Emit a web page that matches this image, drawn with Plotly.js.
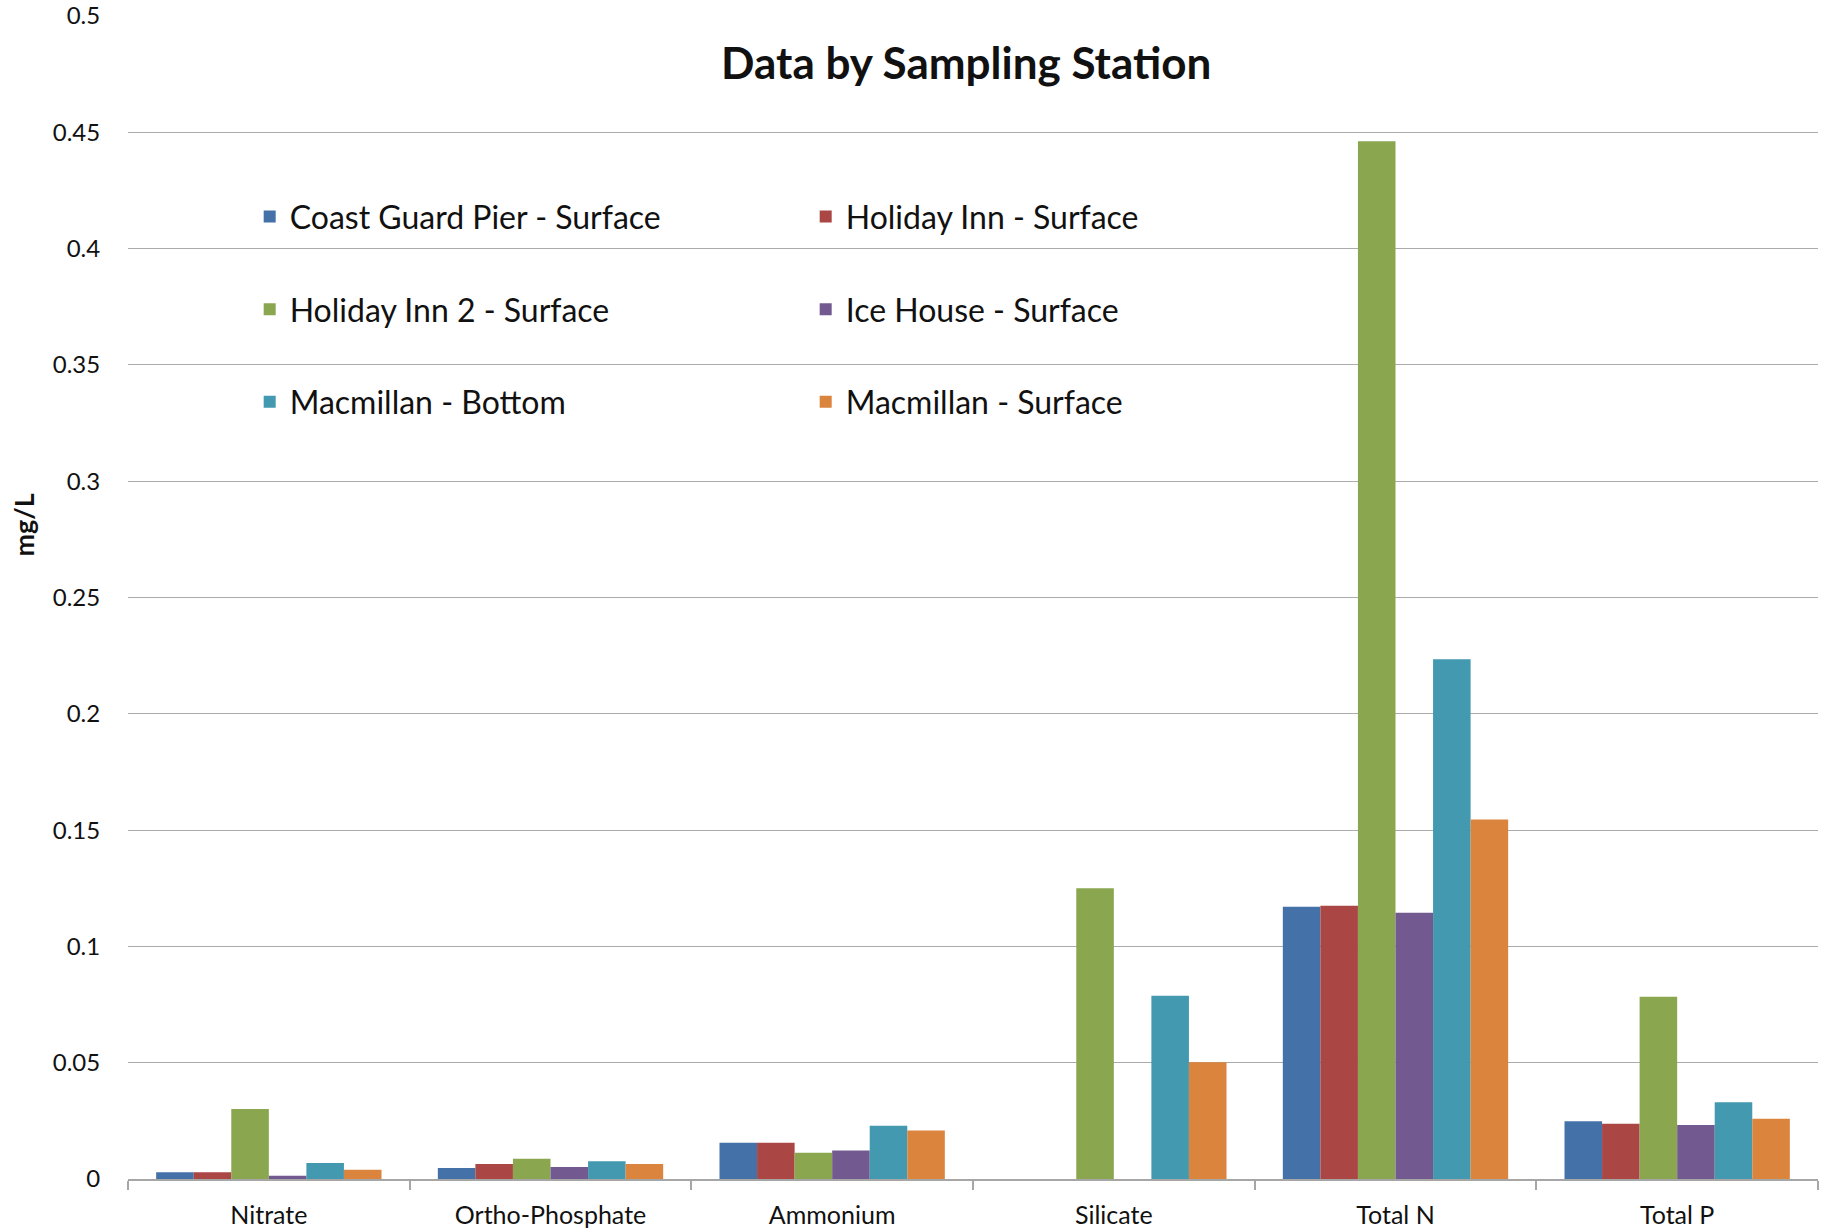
<!DOCTYPE html>
<html>
<head>
<meta charset="utf-8">
<script src="https://cdn.plot.ly/plotly-3.0.1.min.js"></script>
<style>html,body{margin:0;padding:0;background:#fff;}#chart{width:1830px;height:1231px;}</style>
</head>
<body>
<div id="chart"></div>
<script>
const categories = ["Nitrate", "Ortho-Phosphate", "Ammonium", "Silicate", "Total N", "Total P"];
const seriesNames = ["Coast Guard Pier - Surface", "Holiday Inn - Surface", "Holiday Inn 2 - Surface", "Ice House - Surface", "Macmillan - Bottom", "Macmillan - Surface"];
const coastGuardPierSurface = [0.0029, 0.0047, 0.0156, null, 0.117, 0.0248];
const holidayInnSurface     = [0.0029, 0.0065, 0.0156, null, 0.1175, 0.0237];
const holidayInn2Surface    = [0.0301, 0.0087, 0.0113, 0.125, 0.4462, 0.0783];
const iceHouseSurface       = [0.0014, 0.0052, 0.0123, null, 0.1145, 0.0232];
const macmillanBottom       = [0.0069, 0.0076, 0.0229, 0.0788, 0.2234, 0.033];
const macmillanSurface      = [0.004, 0.0065, 0.0208, 0.0502, 0.1546, 0.0259];
const yTickVals = [0, 0.05, 0.1, 0.15, 0.2, 0.25, 0.3, 0.35, 0.4, 0.45, 0.5];
const yTickText = ["0", "0.05", "0.1", "0.15", "0.2", "0.25", "0.3", "0.35", "0.4", "0.45", "0.5"];

const seriesValues = [coastGuardPierSurface, holidayInnSurface, holidayInn2Surface, iceHouseSurface, macmillanBottom, macmillanSurface];
const colors = ["#4472A8", "#AA4644", "#8AA64F", "#725A91", "#4299B0", "#DB843D"];
// column 1: Coast Guard, Holiday Inn 2, Macmillan Bottom ; column 2: Holiday Inn, Ice House, Macmillan Surface
const legendCol = ["legend", "legend2", "legend", "legend2", "legend", "legend2"];
const legendRank = [1, 1, 2, 2, 3, 3];

const FONT = "Lato, 'Open Sans', 'DejaVu Sans', sans-serif";
const traces = seriesNames.map((name, i) => ({
  type: "bar",
  name: name,
  x: categories,
  y: seriesValues[i],
  marker: {color: colors[i], line: {width: 0}},
  legend: legendCol[i],
  legendrank: legendRank[i],
  legendgroup: "g" + i,
  hoverinfo: "x+y+name"
}));

const legendCommon = {
  orientation: "v",
  bgcolor: "rgba(0,0,0,0)",
  borderwidth: 0,
  font: {family: FONT, size: 32, color: "#111"},
  tracegroupgap: 48,
  traceorder: "grouped",
  xanchor: "left",
  yanchor: "top",
  xref: "paper",
  yref: "paper"
};

const layout = {
  width: 1830,
  height: 1231,
  paper_bgcolor: "#ffffff",
  plot_bgcolor: "#ffffff",
  margin: {l: 128, r: 12, t: 16, b: 52},
  barmode: "group",
  bargap: 0.2,
  bargroupgap: 0,
  font: {family: FONT, color: "#111"},
  title: {
    text: "<b>Data by Sampling Station</b>",
    font: {family: FONT, size: 44, color: "#111"},
    x: 0.496, xref: "paper", xanchor: "center",
    y: 0.948, yref: "container", yanchor: "middle"
  },
  xaxis: {
    type: "category",
    tickson: "boundaries",
    ticks: "outside",
    ticklen: 9,
    tickcolor: "#a6a6a6",
    tickwidth: 1.5,
    showline: true,
    linecolor: "#a6a6a6",
    linewidth: 1.5,
    showgrid: false,
    tickfont: {family: FONT, size: 25, color: "#111"},
    ticklabelstandoff: 13,
    range: [-0.5, 5.5]
  },
  yaxis: {
    range: [0, 0.5],
    tickvals: yTickVals,
    ticktext: yTickText,
    showgrid: true,
    gridcolor: "#ababab",
    gridwidth: 1.3,
    zeroline: false,
    showline: false,
    ticks: "outside",
    ticklen: 22,
    tickcolor: "rgba(0,0,0,0)",
    tickfont: {family: FONT, size: 24, color: "#111"}
  },
  legend: Object.assign({}, legendCommon, {x: 0.072, y: 0.851}),
  legend2: Object.assign({}, legendCommon, {x: 0.401, y: 0.851}),
  shapes: [{
    type: "rect", xref: "paper", yref: "paper",
    x0: 0.0325, x1: 0.688, y0: 0.623, y1: 0.874,
    fillcolor: "#ffffff", line: {width: 0}, layer: "between"
  }],
  annotations: [{
    text: "<b>mg/L</b>",
    textangle: -90,
    xref: "paper", yref: "paper",
    x: -0.062, y: 0.562,
    xanchor: "center", yanchor: "middle",
    showarrow: false,
    font: {family: FONT, size: 27, color: "#111"}
  }],
  showlegend: true
};

Plotly.newPlot("chart", traces, layout, {displayModeBar: false});
</script>
</body>
</html>
